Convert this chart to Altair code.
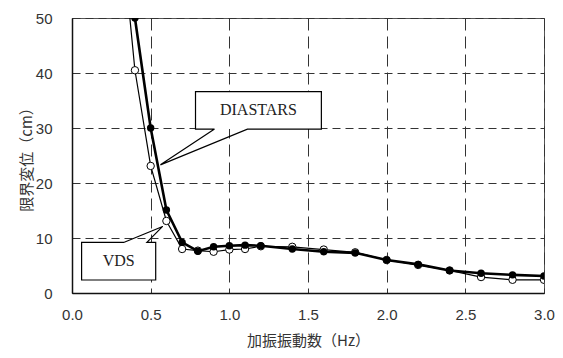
import altair as alt
import pandas as pd

# --- data ---
freq = [0.3, 0.4, 0.5, 0.6, 0.7, 0.8, 0.9, 1.0, 1.1, 1.2, 1.4, 1.6, 1.8, 2.0, 2.2, 2.4, 2.6, 2.8, 3.0]
diastars = [75, 50, 30, 15.1, 9.2, 7.6, 8.4, 8.6, 8.7, 8.6, 8.0, 7.5, 7.3, 6.0, 5.2, 4.1, 3.6, 3.3, 3.1]
vds = [70, 40.5, 23.1, 13.1, 8.0, 7.7, 7.5, 7.9, 8.0, 8.5, 8.4, 7.9, 7.4, 6.0, 5.1, 4.1, 2.9, 2.4, 2.4]

x_ticks = [0.0, 0.5, 1.0, 1.5, 2.0, 2.5, 3.0]
y_ticks = [0, 10, 20, 30, 40, 50]

# callout annotations (data coordinates): box, pointer base and tip
callout_names = ["DIASTARS", "VDS"]
box_left = [0.785, 0.061]
box_right = [1.585, 0.532]
box_top = [36.6, 9.22]
box_bottom = [29.8, 2.36]
ptr_base1 = [0.906, 0.332]
ptr_base2 = [1.115, 0.476]
ptr_tip_x = [0.562, 0.576]
ptr_tip_y = [23.3, 12.1]

df_d = pd.DataFrame({"f": freq, "v": diastars})
df_v = pd.DataFrame({"f": freq, "v": vds})

# outline paths for callouts
rows = []
for i, name in enumerate(callout_names):
    L, R, T, B = box_left[i], box_right[i], box_top[i], box_bottom[i]
    b1, b2 = ptr_base1[i], ptr_base2[i]
    tx, ty = ptr_tip_x[i], ptr_tip_y[i]
    if name == "DIASTARS":
        pts = [(b1, B), (tx, ty), (b2, B), (R, B), (R, T), (L, T), (L, B), (b1, B)]
    else:
        pts = [(b1, T), (tx, ty), (b2, T), (R, T), (R, B), (L, B), (L, T), (b1, T)]
    for k, (px, py) in enumerate(pts):
        rows.append({"name": name, "k": k, "x": px, "y": py})
df_path = pd.DataFrame(rows)
df_box = pd.DataFrame({"name": callout_names, "L": box_left, "R": box_right,
                       "T": box_top, "B": box_bottom,
                       "cx": [(a + b) / 2 for a, b in zip(box_left, box_right)],
                       "cy": [(a + b) / 2 for a, b in zip(box_top, box_bottom)]})

xs = alt.Scale(domain=[0, 3], nice=False)
ys = alt.Scale(domain=[0, 50], nice=False)

x_enc = alt.X("f:Q", scale=xs, axis=alt.Axis(
    values=x_ticks, format=".1f", title="加振振動数（Hz）", grid=True,
    gridDash=[12, 6], gridColor="#333", gridWidth=1, labelFlush=False,
    ticks=False, labelPadding=14, titlePadding=11,
    domainColor="#111", domainWidth=1.5))
y_enc = alt.Y("v:Q", scale=ys, axis=alt.Axis(
    values=y_ticks, title="限界変位（cm）", grid=True,
    gridDash=[8, 5], gridColor="#333", gridWidth=1, labelFlush=False,
    ticks=False, labelPadding=20, titlePadding=1,
    domainColor="#111", domainWidth=1.5))

line_v = alt.Chart(df_v).mark_line(color="black", strokeWidth=1.2, clip=True).encode(x=x_enc, y=y_enc)
pts_v = alt.Chart(df_v).mark_point(shape="circle", filled=True, fill="white", stroke="black",
                                   strokeWidth=1, size=55, opacity=1, clip=True).encode(x="f:Q", y="v:Q")
line_d = alt.Chart(df_d).mark_line(color="black", strokeWidth=2.6, clip=True).encode(x="f:Q", y="v:Q")
pts_d = alt.Chart(df_d).mark_point(shape="circle", filled=True, color="black",
                                   size=55, opacity=1, clip=True).encode(x="f:Q", y="v:Q")

box_fill = alt.Chart(df_box).mark_rect(color="white").encode(
    x=alt.X("L:Q", scale=xs), x2="R:Q", y=alt.Y("T:Q", scale=ys), y2="B:Q")
outline = alt.Chart(df_path).mark_line(color="black", strokeWidth=1.2, strokeJoin="miter").encode(
    x=alt.X("x:Q", scale=xs), y=alt.Y("y:Q", scale=ys), order="k:Q", detail="name:N")
label = alt.Chart(df_box).mark_text(font="Times New Roman, Liberation Serif, serif", fontSize=16,
                                    fontWeight="normal", color="#222").encode(
    x=alt.X("cx:Q", scale=xs), y=alt.Y("cy:Q", scale=ys), text="name:N")

chart = alt.layer(line_v, pts_v, line_d, pts_d, box_fill, outline, label).properties(
    width=472, height=275,
    autosize=alt.AutoSizeParams(type="none"),
    padding={"left": 64, "top": 10, "right": 11, "bottom": 57},
).configure_view(stroke="#555", strokeWidth=1).configure_axis(
    labelFont="Liberation Sans", labelFontSize=15, labelColor="#333",
    titleFont="Noto Sans CJK JP", titleFontSize=15, titleFontWeight="normal", titleColor="#333",
)

chart.save("out.html", embed_options={"renderer": "svg", "actions": False})
